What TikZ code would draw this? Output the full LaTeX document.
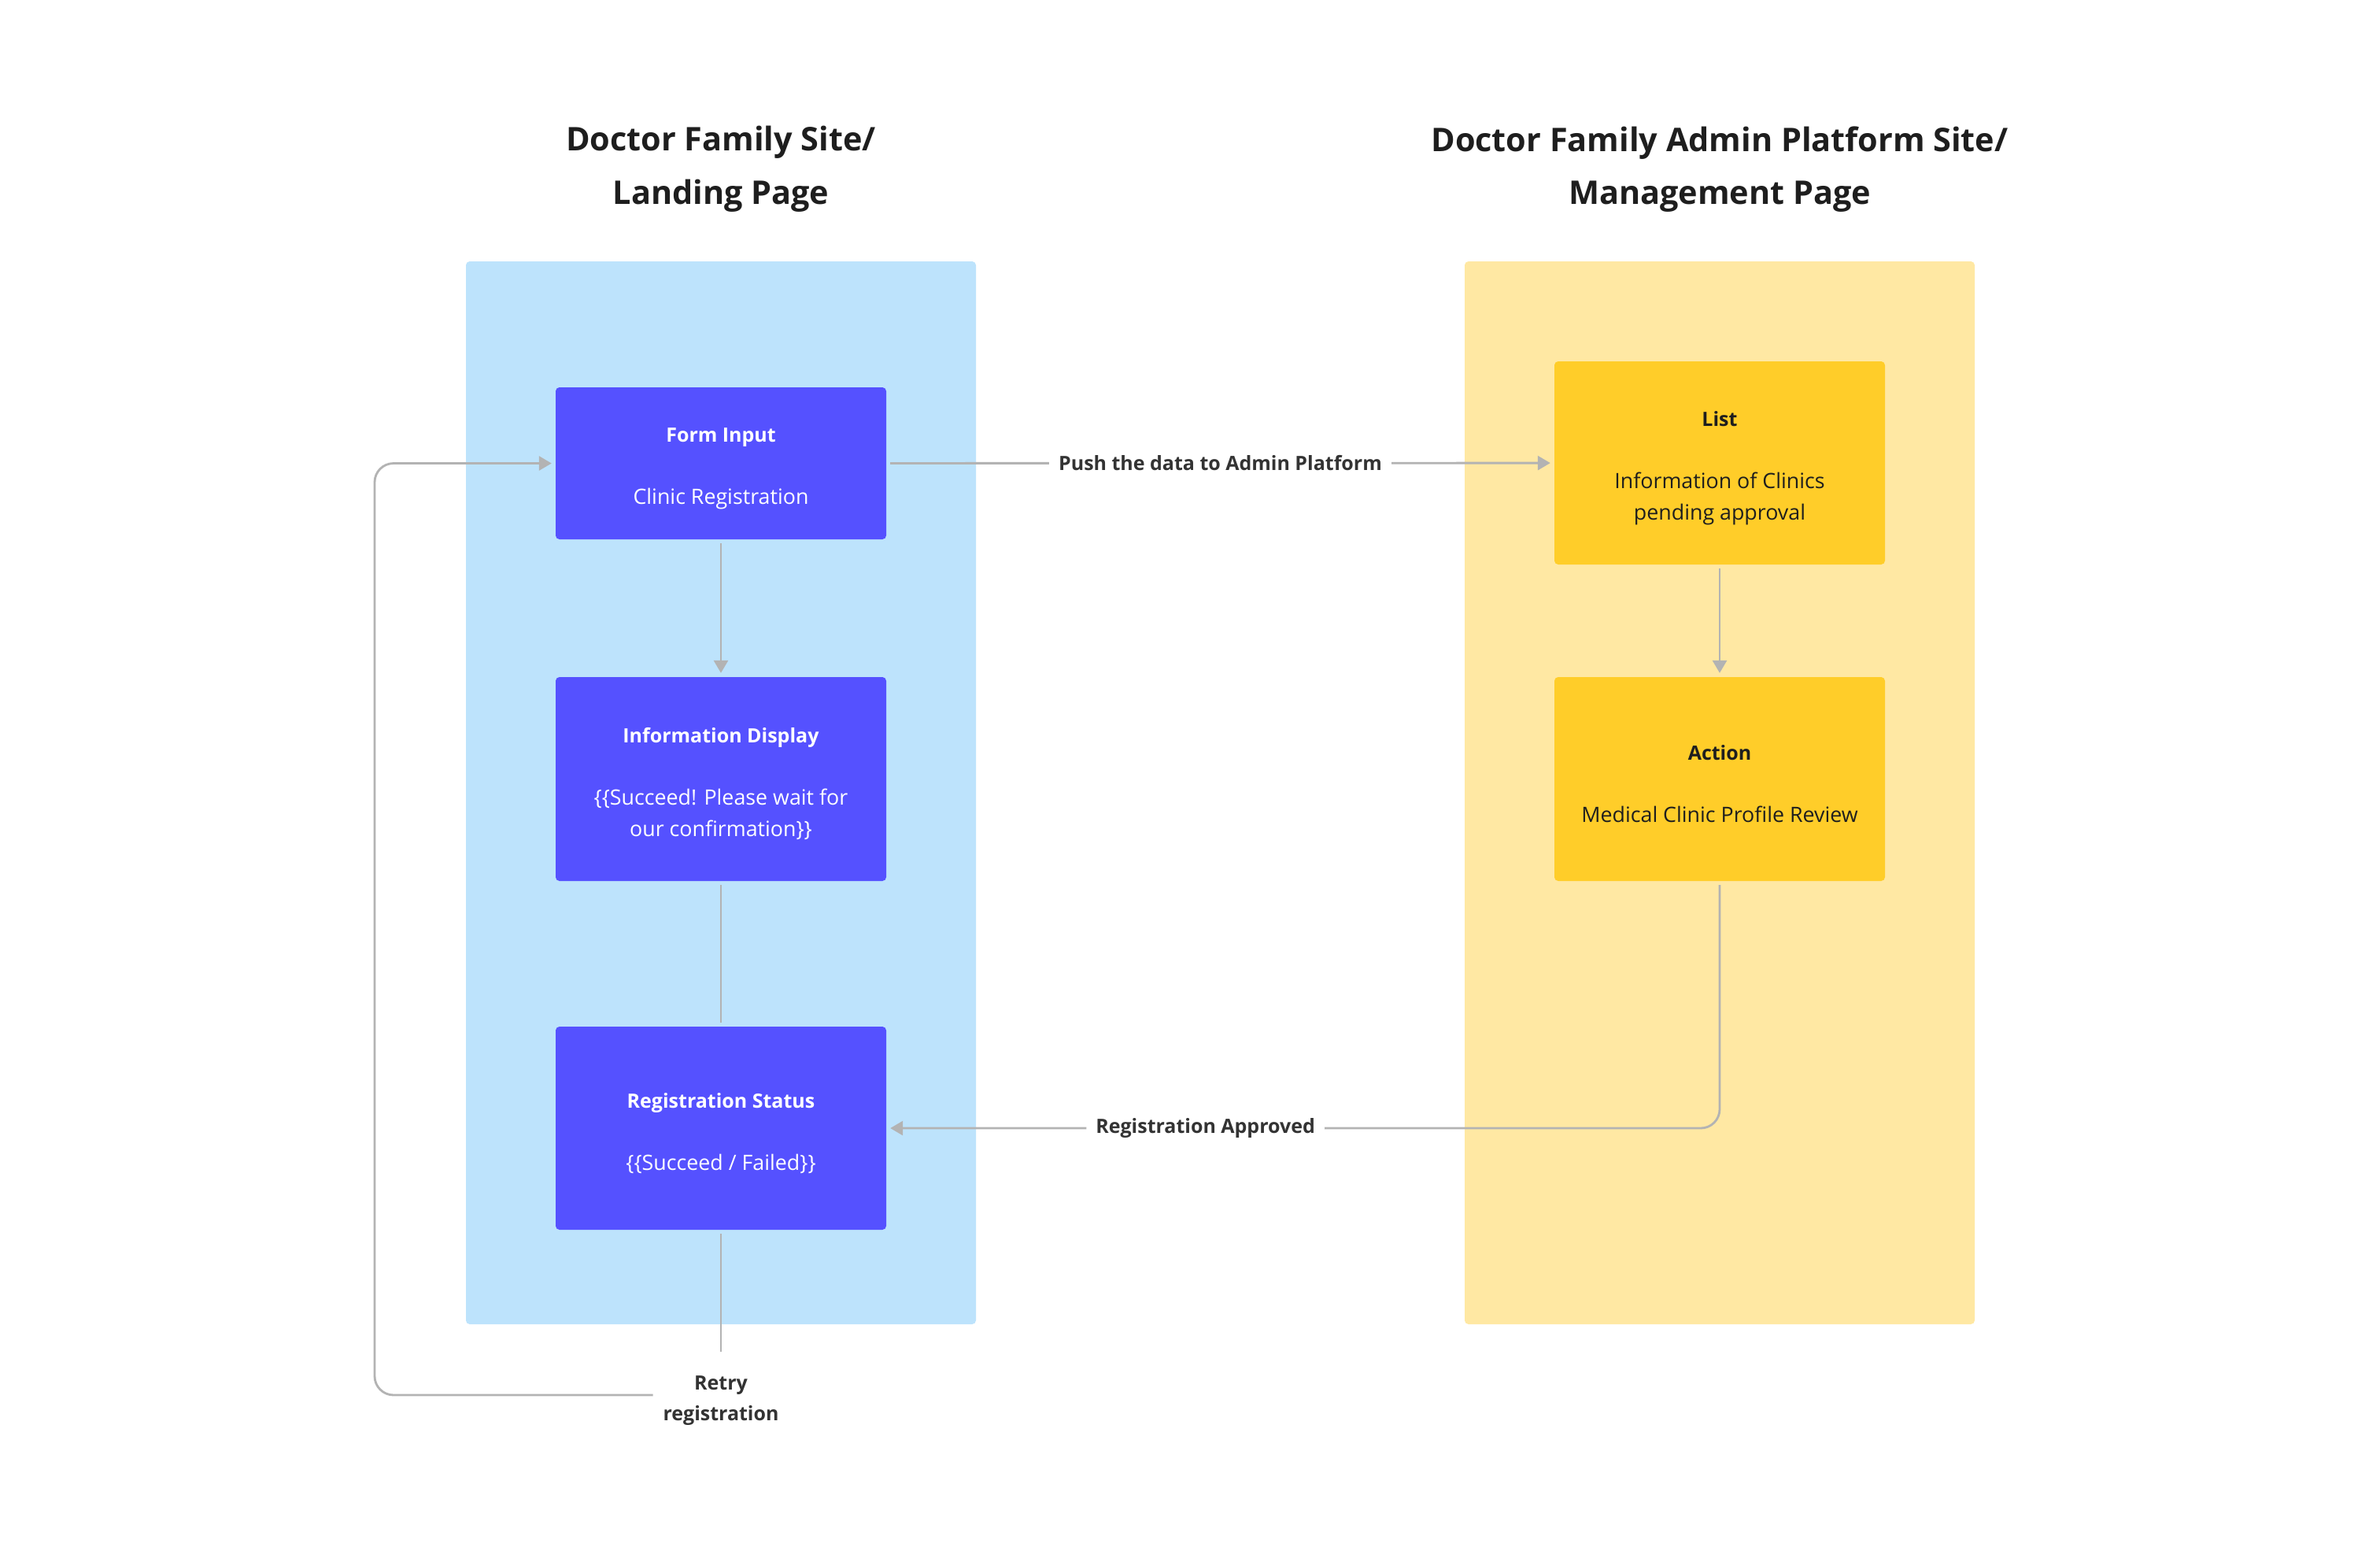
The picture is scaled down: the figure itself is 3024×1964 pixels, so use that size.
\documentclass[tikz,border=0pt]{standalone}
\usepackage{fontspec}
\setmainfont{Open Sans}
\usetikzlibrary{arrows.meta,calc}
\definecolor{panelblue}{HTML}{BDE3FC}
\definecolor{boxblue}{HTML}{5551FF}
\definecolor{panelyellow}{HTML}{FFE8A3}
\definecolor{boxyellow}{HTML}{FFCD29}
\definecolor{ink}{HTML}{1E1E1E}
\definecolor{conn}{HTML}{B3B3B3}
\definecolor{labelink}{HTML}{333333}
\newcommand{\toppad}{\rule{0pt}{8pt}}
\newcommand{\cardtitle}[1]{{\fontsize{6.25}{10}\selectfont\bfseries #1}}
\begin{document}
\begin{tikzpicture}[x=0.25pt,y=-0.25pt,
  panel/.style={rounded corners=1.2pt},
  card/.style={rounded corners=1.2pt, minimum width=105pt, align=center,
    font=\fontsize{6.7}{10}\selectfont, inner sep=0pt, outer sep=1.3pt},
  bluecard/.style={card, fill=boxblue, text=white},
  yellowcard/.style={card, fill=boxyellow, text=ink},
  heading/.style={align=center, text=ink, font=\fontsize{10.35}{16.9}\selectfont\bfseries},
  conlabel/.style={fill=white, text=labelink, inner xsep=3pt, inner ysep=2pt,
    font=\fontsize{6.25}{9.75}\selectfont\bfseries, align=center},
  conline/.style={draw=conn, line width=0.7pt},
  arr/.style={conline, -{Triangle[length=4pt,width=4.5pt]}}
]
\useasboundingbox (0,0) rectangle (3024,1964);
\fill[white] (0,0) rectangle (3024,1964);

% panels
\fill[panelblue, panel] (592,332) rectangle (1240,1682);
\fill[panelyellow, panel] (1861,332) rectangle (2509,1682);

% headings
\node[heading] (h1) at (916,215) {Doctor Family Site/\\Landing Page};
\node[heading] (h2) at (2185,215) {Doctor Family Admin Platform Site/\\Management Page};

% cards
\node[bluecard, minimum height=48.25pt] (form) at (916,588.5)
  {\toppad\cardtitle{Form Input}\\[9.75pt]Clinic Registration};
\node[bluecard, minimum height=64.75pt] (info) at (916,989.5)
  {\toppad\cardtitle{Information Display}\\[9.75pt]\{\{Succeed! Please wait for\\our confirmation\}\}};
\node[bluecard, minimum height=64.5pt] (rs) at (916,1433)
  {\toppad\cardtitle{Registration Status}\\[9.75pt]\{\{Succeed / Failed\}\}};
\node[yellowcard, minimum height=64.5pt] (list) at (2185,588)
  {\toppad\cardtitle{List}\\[9.75pt]Information of Clinics\\pending approval};
\node[yellowcard, minimum height=64.75pt] (action) at (2185,989.5)
  {\toppad\cardtitle{Action}\\[9.75pt]Medical Clinic Profile Review};

% retry label
\node[conlabel, inner ysep=4pt] (retry) at (916,1772) {\toppad Retry\\registration};
\coordinate (loopcorner) at (476,1772);

% connectors
\draw[arr] (form) -- (info);
\draw[conline] (info) -- (rs);
\draw[arr] (form) -- node[conlabel] {Push the data to Admin Platform} (list);
\draw[arr] (list) -- (action);
\draw[arr, rounded corners=6pt] (action.south) |- node[conlabel, pos=0.81] {Registration Approved} (rs.east);
\draw[conline] (rs) -- (retry);
\draw[arr, rounded corners=6pt] (retry.west) -- (loopcorner) |- (form.west);
\end{tikzpicture}
\end{document}
